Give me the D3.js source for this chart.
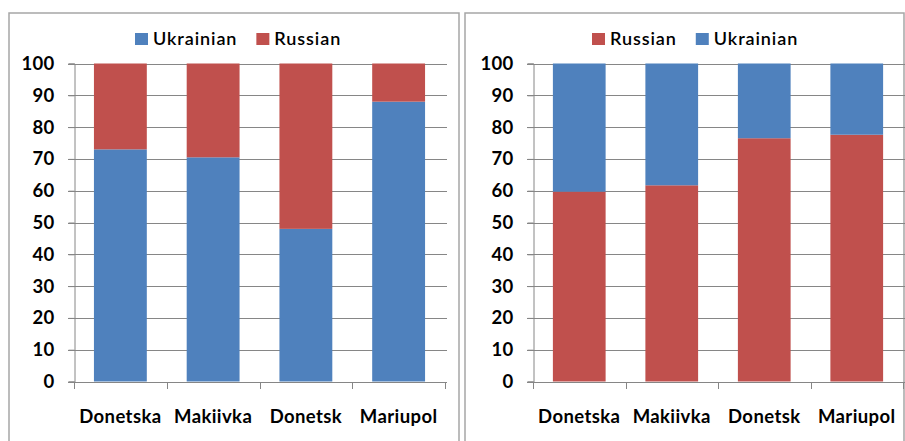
<!DOCTYPE html>
<html>
<head>
<meta charset="utf-8">
<script src="https://cdn.jsdelivr.net/npm/d3@7"></script>
<style>
  html, body { margin: 0; padding: 0; background: #fff; }
  svg text { font-family: Lato, "Noto Sans", sans-serif; font-weight: bold; fill: #000; }
</style>
</head>
<body>
<svg id="chart" width="905" height="441"></svg>
<script>
// ---- data ----
const categories = ["Donetska", "Makiivka", "Donetsk", "Mariupol"];
const yTicks = [0, 10, 20, 30, 40, 50, 60, 70, 80, 90, 100];

// Left panel (Ukrainian at bottom, Russian on top)
const leftSeriesNames = ["Ukrainian", "Russian"];
const leftUkrainian = [73.0, 70.5, 48.0, 88.0];
const leftRussian   = [27.0, 29.5, 52.0, 12.0];

// Right panel (Russian at bottom, Ukrainian on top)
const rightSeriesNames = ["Russian", "Ukrainian"];
const rightRussian   = [59.7, 61.7, 76.5, 77.6];
const rightUkrainian = [40.3, 38.3, 23.5, 22.4];

const colors = { Ukrainian: "#4F81BD", Russian: "#C0504D" };

const svg = d3.select("#chart");

function drawPanel(cfg) {
  const g = svg.append("g");
  // panel border
  g.append("rect")
    .attr("x", cfg.box[0]).attr("y", cfg.box[1])
    .attr("width", cfg.box[2]).attr("height", cfg.box[3])
    .attr("fill", "#fff").attr("stroke", "#A6A6A6").attr("stroke-width", 1.5);

  const x = d3.scaleBand().domain(categories)
    .range([cfg.x0, cfg.x1]).paddingInner(0.43).paddingOuter(0.215);
  const y = d3.scaleLinear().domain([0, 100]).range([cfg.yBottom, cfg.yTop]);

  // gridlines
  g.append("g").selectAll("line").data(yTicks).join("line")
    .attr("x1", cfg.x0 - 6).attr("x2", cfg.x1 + 2)
    .attr("y1", d => Math.round(y(d)) + 0.5).attr("y2", d => Math.round(y(d)) + 0.5)
    .attr("stroke", "#868686").attr("stroke-width", 1);

  // stacked bars
  const rows = categories.map((c, i) => {
    const o = { cat: c };
    cfg.series.forEach(s => { o[s.name] = s.values[i]; });
    return o;
  });
  const stack = d3.stack().keys(cfg.series.map(s => s.name))(rows);
  g.append("g").selectAll("g").data(stack).join("g")
    .attr("fill", d => colors[d.key])
    .selectAll("rect").data(d => d).join("rect")
      .attr("x", d => x(d.data.cat))
      .attr("width", x.bandwidth())
      .attr("y", d => y(d[1]))
      .attr("height", d => y(d[0]) - y(d[1]));

  // y axis
  const yAxis = d3.axisLeft(y).tickValues(yTicks).tickSize(6).tickPadding(14);
  const ya = g.append("g").attr("transform", `translate(${cfg.x0 + 0.5},0)`).call(yAxis);
  ya.select(".domain").attr("stroke", "#868686");
  ya.selectAll(".tick line").attr("stroke", "#868686");
  ya.selectAll(".tick text").style("font-size", "18.5px").style("letter-spacing", "0.3px");

  // x axis ticks and labels
  const xa = g.append("g");
  xa.selectAll("line").data(d3.range(categories.length + 1)).join("line")
    .attr("x1", i => Math.round(cfg.x0 + i * x.step()) + 0.5)
    .attr("x2", i => Math.round(cfg.x0 + i * x.step()) + 0.5)
    .attr("y1", Math.round(y(0)) + 0.5).attr("y2", Math.round(y(0)) + 7)
    .attr("stroke", "#868686");
  xa.selectAll("text").data(categories).join("text")
    .attr("x", d => x(d) + x.bandwidth() / 2)
    .attr("y", cfg.labelY)
    .attr("text-anchor", "middle")
    .style("font-size", "18.5px")
    .style("letter-spacing", "0.4px")
    .text(d => d);

  // legend
  const lg = g.append("g");
  let lx = cfg.legendX;
  cfg.series.forEach(s => {
    lg.append("rect").attr("x", lx).attr("y", cfg.legendY - 12)
      .attr("width", 13).attr("height", 12).attr("fill", colors[s.name]);
    const t = lg.append("text").attr("x", lx + 18).attr("y", cfg.legendY)
      .style("font-size", "18px").style("font-weight", "600")
      .style("letter-spacing", "0.9px").text(s.name);
    lx += 18 + t.node().getComputedTextLength() + 19;
  });
}

drawPanel({
  box: [9, 13, 450, 440],
  x0: 74, x1: 445, yTop: 63.5, yBottom: 381.5, labelY: 423,
  legendX: 135, legendY: 45,
  series: [
    { name: leftSeriesNames[0], values: leftUkrainian },
    { name: leftSeriesNames[1], values: leftRussian }
  ]
});

drawPanel({
  box: [465, 13, 439, 440],
  x0: 533, x1: 903, yTop: 63.5, yBottom: 381.5, labelY: 423,
  legendX: 592, legendY: 45,
  series: [
    { name: rightSeriesNames[0], values: rightRussian },
    { name: rightSeriesNames[1], values: rightUkrainian }
  ]
});
</script>
</body>
</html>
